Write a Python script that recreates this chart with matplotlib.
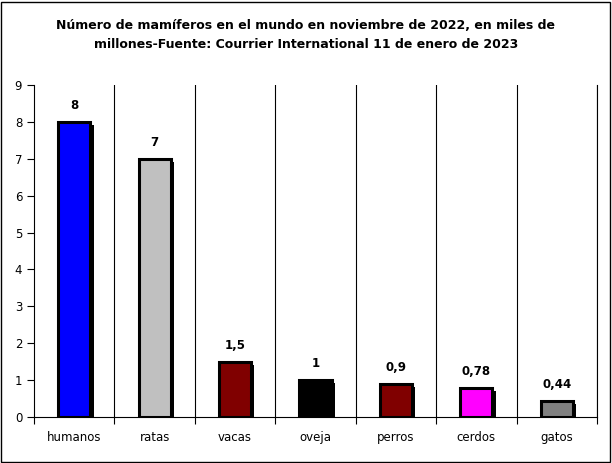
import matplotlib
matplotlib.use("Agg")
import matplotlib.pyplot as plt
from matplotlib.patches import Rectangle

categories = ["humanos", "ratas", "vacas", "oveja", "perros", "cerdos", "gatos"]
values = [8, 7, 1.5, 1, 0.9, 0.78, 0.44]
value_labels = ["8", "7", "1,5", "1", "0,9", "0,78", "0,44"]
colors = ["#0000FF", "#C0C0C0", "#800000", "#000000", "#800000", "#FF00FF", "#808080"]
title = ("Número de mamíferos en el mundo en noviembre de 2022, en miles de\n"
         "millones-Fuente: Courrier International 11 de enero de 2023")

fig = plt.figure(figsize=(6.12, 4.63), dpi=100)
ax = fig.add_axes([34/612, 46/463, 563/612, 332/463])

x = list(range(len(categories)))
width = 0.4
# shadow
ax.bar([i + 0.04 for i in x], [v - 0.08 for v in values], width=width, color="black",
       zorder=2)
ax.bar(x, values, width=width, color=colors, edgecolor="black", linewidth=2.2, zorder=3)

for i, (v, lab) in enumerate(zip(values, value_labels)):
    ax.text(i, v + 0.27, lab, ha="center", va="bottom", fontsize=8.5, fontweight="bold")

ax.set_xlim(-0.5, len(categories) - 0.5)
ax.set_ylim(0, 9)
ax.set_yticks(range(0, 10))
ax.set_xticks([i + 0.5 for i in range(-1, len(categories))], minor=False)
ax.set_xticklabels([])
ax.set_xticks(x, minor=True)
ax.set_xticklabels(categories, minor=True)
ax.tick_params(axis="x", which="minor", length=0, pad=10, labelsize=8.5)
ax.tick_params(axis="x", which="major", length=5, direction="out", width=0.8)
ax.tick_params(axis="y", length=5, direction="out", labelsize=8.5, width=0.8)
for b in range(len(categories)):
    ax.axvline(b + 0.5, color="black", linewidth=0.8, zorder=1)
ax.spines["top"].set_visible(False)
for s in ["left", "bottom", "right"]:
    ax.spines[s].set_linewidth(0.8)

fig.text(306/612, 1 - 35/463, title, ha="center", va="center", fontsize=9,
         fontweight="bold", linespacing=1.6)

fig.patches.append(Rectangle((1/612, 1/463), 609/612, 460/463, transform=fig.transFigure,
                             fill=False, edgecolor="black", linewidth=1))
fig.savefig("out.png", dpi=100)
